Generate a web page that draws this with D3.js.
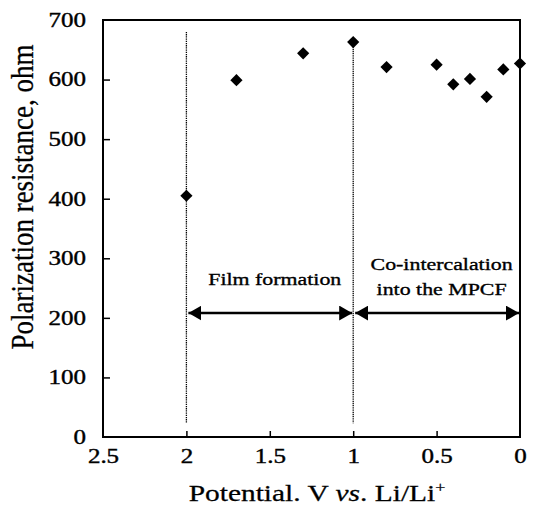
<!DOCTYPE html>
<html>
<head>
<meta charset="utf-8">
<script src="https://cdn.jsdelivr.net/npm/d3@7"></script>
<style>
  body { margin: 0; background: #fff; }
  svg text { font-family: "Liberation Serif", "Times New Roman", serif; fill: #000; }
</style>
</head>
<body>
<div id="chart"></div>
<script>
// data
const potential = [2.0, 1.7, 1.3, 1.0, 0.8, 0.5, 0.4, 0.3, 0.2, 0.1, 0.0];
const resistance = [405, 599, 644, 663, 621, 625, 592, 601, 571, 617, 627];
const xTicks = [2.5, 2, 1.5, 1, 0.5, 0];
const yTicks = [0, 100, 200, 300, 400, 500, 600, 700];
const dividers = [2, 1];
const regions = [
  {from: 2, to: 1, lines: ["Film formation"]},
  {from: 1, to: 0, lines: ["Co-intercalation", "into the MPCF"]}
];
const arrowLevel = 208;

const width = 535, height = 505;
const margin = {top: 20, right: 15, bottom: 68, left: 103};
const stretch = 1.25; // the scanned lettering is wide

let svg = d3.select('#chart').append('svg')
  .attr('width', width)
  .attr('height', height);

let x = d3.scaleLinear().domain([2.5, 0]).range([margin.left, width - margin.right]);
let y = d3.scaleLinear().domain([0, 700]).range([height - margin.bottom, margin.top]);

// arrow heads
let defs = svg.append('defs');
defs.append('marker').attr('id', 'head')
  .attr('viewBox', '0 0 10 10').attr('refX', 10).attr('refY', 5)
  .attr('markerWidth', 13).attr('markerHeight', 15)
  .attr('preserveAspectRatio', 'none')
  .attr('markerUnits', 'userSpaceOnUse')
  .attr('orient', 'auto-start-reverse')
  .append('path').attr('d', 'M0,0 L10,5 L0,10 Z').attr('fill', '#000');

// axes
let xAxis = d3.axisBottom(x).tickValues(xTicks).tickSize(-6).tickPadding(12)
  .tickFormat(d => d3.format('')(d));
let yAxis = d3.axisLeft(y).tickValues(yTicks).tickSize(-7).tickPadding(17 / stretch);

let gx = svg.append('g')
  .attr('transform', 'translate(0,' + y(0) + ')')
  .call(xAxis);
let gy = svg.append('g')
  .attr('transform', 'translate(' + x(2.5) + ',0)')
  .call(yAxis);

[gx, gy].forEach(g => {
  g.select('.domain').remove();
  g.selectAll('.tick line').attr('stroke', '#000').attr('stroke-width', 1.5);
  g.selectAll('.tick text')
    .attr('transform', 'scale(' + stretch + ',1)')
    .style('font-size', '20px')
    .style('stroke', '#000').style('stroke-width', '0.4px');
});
gy.selectAll('.tick line').filter(d => d === 0 || d === 700).remove();
gx.selectAll('.tick line').filter(d => d === 2.5 || d === 0).remove();

// frame
svg.append('rect')
  .attr('x', x(2.5)).attr('y', y(700))
  .attr('width', x(0) - x(2.5)).attr('height', y(0) - y(700))
  .attr('fill', 'none').attr('stroke', '#000').attr('stroke-width', 2);

// dotted dividers
svg.selectAll('.divider')
  .data(dividers).enter().append('line')
  .attr('class', 'divider')
  .attr('x1', d => x(d)).attr('x2', d => x(d))
  .attr('y1', d => d === 2 ? y(680) : y(663))
  .attr('y2', y(23))
  .attr('stroke', '#000').attr('stroke-width', 1.3)
  .attr('stroke-dasharray', '1.3,0.9');

// region arrows
svg.selectAll('.span')
  .data(regions).enter().append('line')
  .attr('class', 'span')
  .attr('x1', d => x(d.from) + 2).attr('x2', d => x(d.to) - 1)
  .attr('y1', y(arrowLevel)).attr('y2', y(arrowLevel))
  .attr('stroke', '#000').attr('stroke-width', 2.5)
  .attr('marker-start', 'url(#head)').attr('marker-end', 'url(#head)');

// region labels
let labels = svg.selectAll('.region-label')
  .data(regions).enter().append('text')
  .attr('class', 'region-label')
  .attr('text-anchor', 'middle')
  .attr('transform', d => {
    let cx = (x(d.from) + x(d.to)) / 2 + 5;
    let y0 = d.lines.length === 1 ? y(255) : y(280);
    return 'translate(' + cx + ',' + y0 + ') scale(' + stretch + ',1)';
  })
  .style('font-size', '17.5px')
  .style('stroke', '#000').style('stroke-width', '0.35px');
labels.each(function(d) {
  let t = d3.select(this);
  d.lines.forEach((s, i) => {
    t.append('tspan').attr('x', 0).attr('y', i * 25).text(s);
  });
});

// points
svg.selectAll('.pt')
  .data(potential.map((v, i) => ({v: v, r: resistance[i]})))
  .enter().append('path')
  .attr('class', 'pt')
  .attr('d', d3.symbol().type(d3.symbolDiamond2).size(95))
  .attr('transform', d => 'translate(' + x(d.v) + ',' + y(d.r) + ')')
  .attr('fill', '#000');

// axis titles
svg.append('text')
  .attr('transform', 'translate(317,501) scale(1.28,1)')
  .attr('text-anchor', 'middle')
  .style('font-size', '23px')
  .style('stroke', '#000').style('stroke-width', '0.25px')
  .html('Potential. V <tspan font-style="italic">vs</tspan>. Li/Li<tspan dy="-9" font-size="14px">+</tspan>');

svg.append('text')
  .attr('transform', 'translate(33,197) scale(1.15,1) rotate(-90)')
  .attr('text-anchor', 'middle')
  .style('font-size', '27px')
  .style('stroke', '#000').style('stroke-width', '0.25px')
  .text('Polarization resistance, ohm');
</script>
</body>
</html>
